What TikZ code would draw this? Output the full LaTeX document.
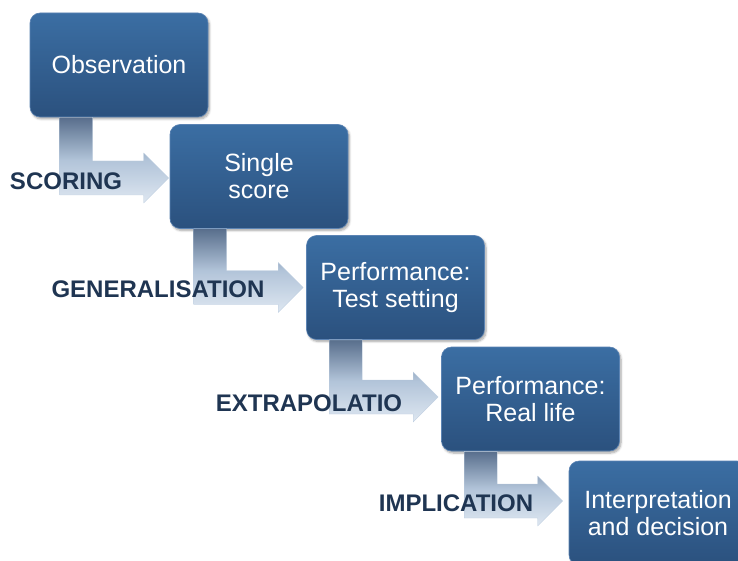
\documentclass[tikz,border=0pt]{standalone}
\usepackage{fontspec}
\setmainfont{Liberation Sans}
\usetikzlibrary{calc}
\usetikzlibrary{shadows.blur}

\definecolor{boxtop}{RGB}{59,110,163}
\definecolor{boxbot}{RGB}{43,81,126}
\definecolor{boxline}{RGB}{92,132,180}
\definecolor{arrtop}{RGB}{88,110,140}
\definecolor{arrmid}{RGB}{178,196,217}
\definecolor{arrbot}{RGB}{222,231,241}
\definecolor{arrline}{RGB}{190,206,224}
\definecolor{labtext}{RGB}{31,53,82}

\begin{document}
\begin{tikzpicture}[x=1pt, y=-1pt,
		stage/.style={rectangle, rounded corners=10pt, minimum width=178pt, minimum height=104pt,
			top color=boxtop, bottom color=boxbot, draw=boxline, line width=0.6pt,
			text=white, align=center, font=\fontsize{25}{27}\selectfont,
			blur shadow={shadow xshift=1.5pt, shadow yshift=-2pt, shadow opacity=35, shadow blur steps=6}},
		link/.style={top color=arrtop, bottom color=arrbot, middle color=arrmid, draw=arrline, line width=0.4pt},
		tag/.style={text=labtext, font=\fontsize{24}{26}\selectfont\bfseries}]

		\clip (0,0) rectangle (738,561);

		\node[stage] (obs) at (119, 65) {Observation};
		\node[stage] (single) at (259, 176.5) {Single\\score};
		\node[stage] (test) at (395.5, 287.5) {Performance:\\Test setting};
		\node[stage] (real) at (530.5, 399) {Performance:\\Real life};
		\node[stage] (decision) at (658, 513) {Interpretation\\and decision};

		% observation to single score
		\path[link] let \p1=([xshift=30pt]obs.south west), \p2=([xshift=-1pt, yshift=-1.5pt]single.west) in
			(\p1) -- (\x1+33pt, \y1) -- (\x1+33pt, \y2+17pt) -- (\x2-25pt, \y2+17pt) -- (\x2-25pt, \y2+25pt)
			-- (\p2) -- (\x2-25pt, \y2-25pt) -- (\x2-25pt, \y2-17pt) -- (\x1, \y2-17pt) -- cycle;

		% single score to test setting
		\path[link] let \p1=([xshift=24pt]single.south west), \p2=([xshift=-3pt]test.west) in
			(\p1) -- (\x1+33pt, \y1) -- (\x1+33pt, \y2+17pt) -- (\x2-25pt, \y2+17pt) -- (\x2-25pt, \y2+25pt)
			-- (\p2) -- (\x2-25pt, \y2-25pt) -- (\x2-25pt, \y2-17pt) -- (\x1, \y2-17pt) -- cycle;

		% test setting to real life
		\path[link] let \p1=([xshift=23pt]test.south west), \p2=([xshift=-3pt, yshift=2pt]real.west) in
			(\p1) -- (\x1+33pt, \y1) -- (\x1+33pt, \y2+17pt) -- (\x2-25pt, \y2+17pt) -- (\x2-25pt, \y2+25pt)
			-- (\p2) -- (\x2-25pt, \y2-25pt) -- (\x2-25pt, \y2-17pt) -- (\x1, \y2-17pt) -- cycle;

		% real life to decision
		\path[link] let \p1=([xshift=23pt]real.south west), \p2=([xshift=-6pt, yshift=12pt]decision.west) in
			(\p1) -- (\x1+33pt, \y1) -- (\x1+33pt, \y2+17pt) -- (\x2-25pt, \y2+17pt) -- (\x2-25pt, \y2+25pt)
			-- (\p2) -- (\x2-25pt, \y2-25pt) -- (\x2-25pt, \y2-17pt) -- (\x1, \y2-17pt) -- cycle;

		\node[tag] (scoring) at (66, 181.5) {SCORING};
		\node[tag] (general) at (158, 289.5) {GENERALISATION};
		\node[tag] (extrap) at (309, 403.5) {EXTRAPOLATIO};
		\node[tag] (implic) at (456, 503.5) {IMPLICATION};

	\end{tikzpicture}
\end{document}
